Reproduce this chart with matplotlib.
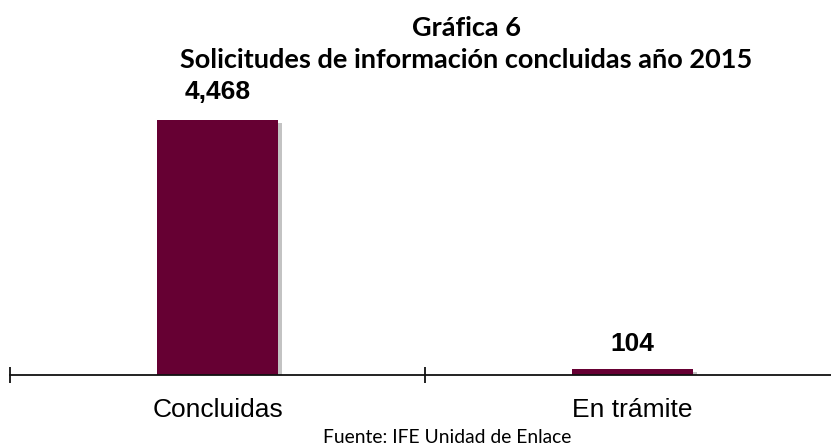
import matplotlib
matplotlib.use("Agg")
import matplotlib.pyplot as plt
import matplotlib.patheffects as pe

categories = ["Concluidas", "En trámite"]
values = [4468, 104]
value_labels = ["4,468", "104"]

W, H = 831, 448
fig = plt.figure(figsize=(W/100, H/100), dpi=100)
left_px, right_px = 10, 840
bottom_px, top_px = 73, 389  # from bottom
ax = fig.add_axes([left_px/W, bottom_px/H, (right_px-left_px)/W, (top_px-bottom_px)/H])
ymax = 4468 * (top_px - bottom_px) / 255
px = ymax / (top_px - bottom_px)  # data units per pixel
bars = ax.bar(range(len(categories)), values, width=0.29, color="#660033",
              path_effects=[pe.SimplePatchShadow(offset=(3, -2), shadow_rgbFace="#888888", alpha=0.5), pe.Normal()])
ax.set_xlim(-0.5, 1.5)
ax.set_ylim(0, ymax)
for s in ["top", "right", "left"]:
    ax.spines[s].set_visible(False)
ax.spines["bottom"].set_color("#111111")
ax.spines["bottom"].set_linewidth(1.3)
ax.set_yticks([])
ax.set_xticks([-0.5, 0.5, 1.5])
ax.set_xticklabels([])
ax.tick_params(axis="x", direction="inout", length=11, width=1.3, color="#111111")
for i, c in enumerate(categories):
    ax.text(i, -35*px, c, ha="center", va="center", fontsize=19, family="Liberation Sans")

ax.text(0, values[0] + 28*px, value_labels[0], ha="center", va="center",
        fontsize=19, fontweight="bold", family="Liberation Sans")
ax.text(1, values[1] + 25*px, value_labels[1], ha="center", va="center",
        fontsize=19, fontweight="bold", family="Liberation Sans")

fig.text(467/W, 1 - 28/H, "Gráfica 6", ha="center", va="center", fontsize=19.5, fontweight="bold", family="Lato")
fig.text(466/W, 1 - 60/H, "Solicitudes de información concluidas año 2015", ha="center", va="center",
         fontsize=19.5, fontweight="bold", family="Lato")
fig.text(447/W, 1 - 437/H, "Fuente: IFE Unidad de Enlace", ha="center", va="center", fontsize=13.9, family="Lato")

fig.savefig("out.png", dpi=100)
